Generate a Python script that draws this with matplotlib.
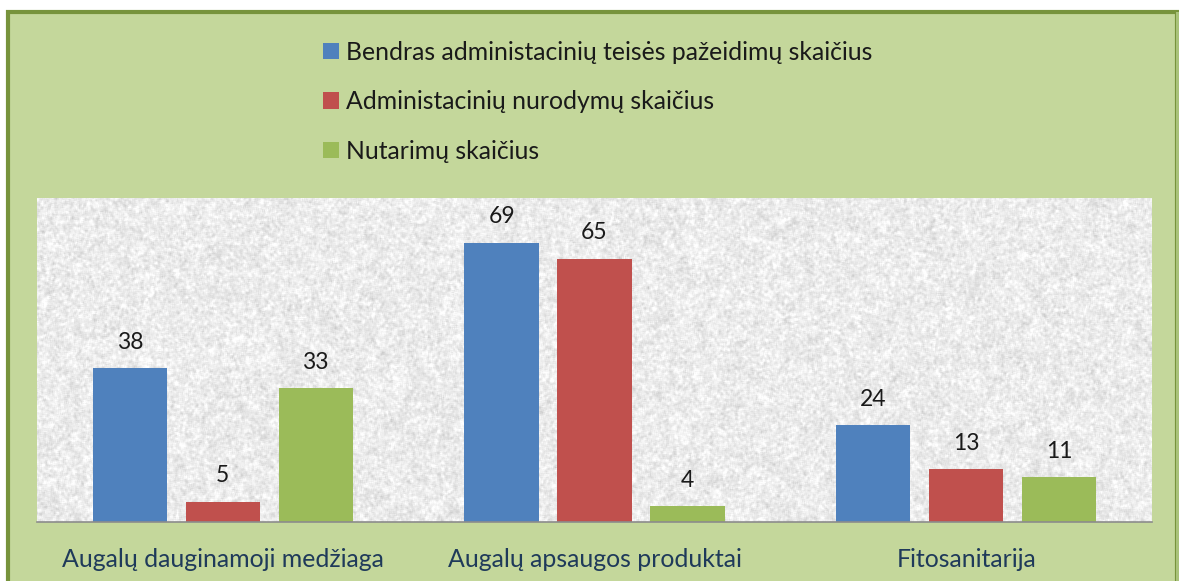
import numpy as np
import matplotlib
matplotlib.use("Agg")
import matplotlib.pyplot as plt
from matplotlib.patches import Rectangle

categories = ["Augalų dauginamoji medžiaga", "Augalų apsaugos produktai", "Fitosanitarija"]
series_names = ["Bendras administacinių teisės pažeidimų skaičius",
                "Administacinių nurodymų skaičius",
                "Nutarimų skaičius"]
bendras = [38, 69, 24]
nurodymai = [5, 65, 13]
nutarimai = [33, 4, 11]
series_values = [bendras, nurodymai, nutarimai]
colors = ["#4f81bd", "#c0504d", "#9bbb59"]

plt.rcParams['font.family'] = ['Lato', 'DejaVu Sans']

W, H = 1179, 581
fig = plt.figure(figsize=(W / 100, H / 100), dpi=100, facecolor="white")

# outer frame
frame = Rectangle((8 / W, -0.05), (1177 - 8) / W, 1 - 12 / H + 0.05, transform=fig.transFigure,
                  facecolor="#c4d79b", edgecolor="#77933c", linewidth=3, zorder=-5)
fig.patches.append(frame)
fig.patches.append(Rectangle((1176 / W, 0), 3 / W, 1 - 12 / H, transform=fig.transFigure,
                             facecolor="#a9c27a", edgecolor="none", zorder=-4))

ax = fig.add_axes([37 / W, (H - 522) / H, 1115 / W, 324 / H])
ax.set_zorder(1)
ax.set_xlim(-0.5, 2.5)
ax.set_ylim(0, 80)


def box_blur(a, r):
    k = 2 * r + 1
    p = np.pad(a, r, mode="wrap")
    c = np.cumsum(np.cumsum(p, 0), 1)
    c = np.pad(c, ((1, 0), (1, 0)))
    return (c[k:, k:] - c[:-k, k:] - c[k:, :-k] + c[:-k, :-k]) / (k * k)


# granite texture background
rng = np.random.default_rng(7)
fine = box_blur(rng.normal(0, 1, (324, 1115)), 1)
mid = box_blur(rng.normal(0, 1, (324, 1115)), 4)
tex = 0.925 + 0.09 * fine + 0.12 * mid
tex = np.clip(tex, 0.72, 1.0)
ax.imshow(tex, cmap="gray", vmin=0, vmax=1, extent=[-0.5, 2.5, 0, 80],
          aspect="auto", zorder=0, interpolation="bilinear")

x = np.arange(len(categories))
offsets = [-0.25, 0.0, 0.25]
width = 0.2
for vals, off, c, name in zip(series_values, offsets, colors, series_names):
    bars = ax.bar(x + off, vals, width, color=c, label=name, zorder=2)
    for b, v in zip(bars, vals):
        ax.annotate(str(v), (b.get_x() + b.get_width() / 2, v), xytext=(0, 11),
                    textcoords="offset points", ha="center", va="bottom",
                    fontsize=16.5, color="#1a1a1a", zorder=3)

for s in ["top", "right", "left"]:
    ax.spines[s].set_visible(False)
ax.spines["bottom"].set_color("#8c8c8c")
ax.spines["bottom"].set_linewidth(1.2)
ax.set_yticks([])
ax.set_xticks(x)
ax.set_xticklabels(categories, fontsize=17.9, color="#1f3a5a")
ax.tick_params(axis="x", length=0, pad=19)

handles, labels = ax.get_legend_handles_labels()
leg = fig.legend(handles, labels, loc="upper left", bbox_to_anchor=(313 / W, 1 - 31 / H),
                 ncol=1, frameon=False, fontsize=17.8, handlelength=0.65, handleheight=0.65,
                 handletextpad=0.3, labelspacing=1.07, borderaxespad=0)
for t in leg.get_texts():
    t.set_color("#1a1a1a")

fig.savefig("out.png", dpi=100, facecolor="white")
